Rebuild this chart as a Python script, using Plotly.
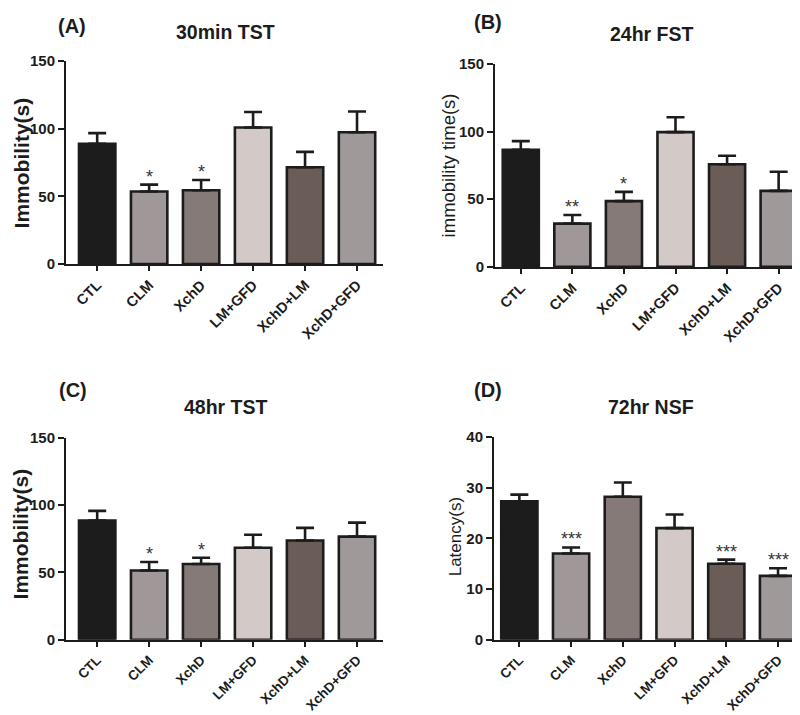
import plotly.graph_objects as go

categories = ["CTL", "CLM", "XchD", "LM+GFD", "XchD+LM", "XchD+GFD"]
colors = ["#1c1c1c", "#a09898", "#857a77", "#d3c9c6", "#6a5d58", "#a09999"]

# Panel A: 30min TST
a_vals = [88.7, 53.6, 54.5, 100.8, 71.5, 97.3]
a_err = [8.0, 5.0, 7.5, 11.5, 11.3, 15.3]
a_sig = ["", "*", "*", "", "", ""]

# Panel B: 24hr FST
b_vals = [86.6, 32.0, 48.6, 99.6, 75.8, 56.2]
b_err = [6.3, 6.3, 6.8, 11.0, 6.3, 14.1]
b_sig = ["", "**", "*", "", "", ""]

# Panel C: 48hr TST
c_vals = [88.6, 51.5, 56.3, 68.4, 73.7, 76.6]
c_err = [7.1, 6.3, 4.6, 9.6, 9.4, 10.4]
c_sig = ["", "*", "*", "", "", ""]

# Panel D: 72hr NSF
d_vals = [27.3, 17.0, 28.2, 22.0, 15.0, 12.6]
d_err = [1.3, 1.2, 2.8, 2.7, 0.8, 1.5]
d_sig = ["", "***", "", "", "***", "***"]

W, H = 800, 715
FONT = "Arial, Liberation Sans, sans-serif"
INK = "#1c1c1c"

panels = [
    dict(vals=a_vals, err=a_err, sig=a_sig, ymax=150, dtick=50,
         px=(58, 375), py=(45, 253), xr=(-0.6, 5.5), xfs=14.5,
         letter="(A)", lpos=(64, 9), title="30min TST", tpos=(217, 15),
         ytitle="Immobility(s)", ytpos=(13, 150), ybold=True, ysize=21),
    dict(vals=b_vals, err=b_err, sig=b_sig, ymax=150, dtick=50,
         px=(487, 799), py=(48, 256), xr=(-0.5, 5.55), xfs=14.5,
         letter="(B)", lpos=(480, 5), title="24hr FST", tpos=(644, 17),
         ytitle="immobility time(s)", ytpos=(440, 152), ybold=False, ysize=18.5),
    dict(vals=c_vals, err=c_err, sig=c_sig, ymax=150, dtick=50,
         px=(58, 375), py=(431, 638), xr=(-0.6, 5.5), xfs=13.5,
         letter="(C)", lpos=(65, 382), title="48hr TST", tpos=(218, 400),
         ytitle="Immobility(s)", ytpos=(12, 530), ybold=True, ysize=21),
    dict(vals=d_vals, err=d_err, sig=d_sig, ymax=40, dtick=10,
         px=(486, 799), py=(430, 638), xr=(-0.49, 5.56), xfs=13.5,
         letter="(D)", lpos=(480, 382), title="72hr NSF", tpos=(643, 400),
         ytitle="Latency(s)", ytpos=(447, 533), ybold=False, ysize=17),
]

fig = go.Figure()
annotations = []
layout = {}

for i, p in enumerate(panels):
    n = "" if i == 0 else str(i + 1)
    xa, ya = "x" + n, "y" + n
    fig.add_trace(go.Bar(
        x=list(range(len(categories))), y=p["vals"],
        xaxis=xa, yaxis=ya, width=0.7,
        marker=dict(color=colors, line=dict(color=INK, width=2.6)),
        error_y=dict(type="data", array=p["err"], arrayminus=[0] * 6,
                     symmetric=False, color=INK, thickness=2.6, width=9),
        showlegend=False, hoverinfo="skip",
    ))
    layout["xaxis" + n] = dict(
        domain=[p["px"][0] / W, p["px"][1] / W], anchor=ya,
        range=list(p["xr"]), tickmode="array",
        tickvals=list(range(len(categories))), ticktext=categories,
        tickangle=-45, ticks="outside", ticklen=5, tickwidth=2, tickcolor=INK,
        showline=True, linecolor=INK, linewidth=2, showgrid=False,
        zeroline=False, fixedrange=True,
        tickfont=dict(family=FONT, size=p["xfs"], color=INK, weight="bold"),
    )
    layout["yaxis" + n] = dict(
        domain=[1 - p["py"][1] / H, 1 - p["py"][0] / H], anchor=xa,
        range=[0, p["ymax"]], dtick=p["dtick"], tick0=0,
        ticks="outside", ticklen=6, tickwidth=2, tickcolor=INK,
        showline=True, linecolor=INK, linewidth=2, showgrid=False,
        zeroline=False, fixedrange=True,
        tickfont=dict(family=FONT, size=15, color=INK, weight="bold"),
    )
    # significance stars
    for j, s in enumerate(p["sig"]):
        if s:
            annotations.append(dict(
                x=j, y=p["vals"][j] + p["err"][j], xref=xa, yref=ya,
                text=s, showarrow=False, yanchor="bottom", yshift=-4,
                font=dict(family=FONT, size=18, color="#333333"),
            ))
    # panel letter
    annotations.append(dict(
        x=p["lpos"][0] / W, y=1 - p["lpos"][1] / H, xref="paper", yref="paper",
        text="<b>" + p["letter"] + "</b>", showarrow=False,
        xanchor="center", yanchor="middle",
        font=dict(family=FONT, size=20, color=INK),
    ))
    # panel title
    annotations.append(dict(
        x=p["tpos"][0] / W, y=1 - p["tpos"][1] / H, xref="paper", yref="paper",
        text="<b>" + p["title"] + "</b>", showarrow=False,
        xanchor="center", yanchor="middle",
        font=dict(family=FONT, size=19.5, color=INK),
    ))
    # y-axis title
    yt = "<b>" + p["ytitle"] + "</b>" if p["ybold"] else p["ytitle"]
    annotations.append(dict(
        x=p["ytpos"][0] / W, y=1 - p["ytpos"][1] / H, xref="paper", yref="paper",
        text=yt, showarrow=False, textangle=-90,
        xanchor="center", yanchor="middle",
        font=dict(family=FONT, size=p["ysize"], color=INK),
    ))

fig.update_layout(
    width=W, height=H, margin=dict(l=0, r=0, t=0, b=0),
    paper_bgcolor="white", plot_bgcolor="white",
    annotations=annotations, bargap=0.3, **layout,
)

fig.write_html("out.html")
